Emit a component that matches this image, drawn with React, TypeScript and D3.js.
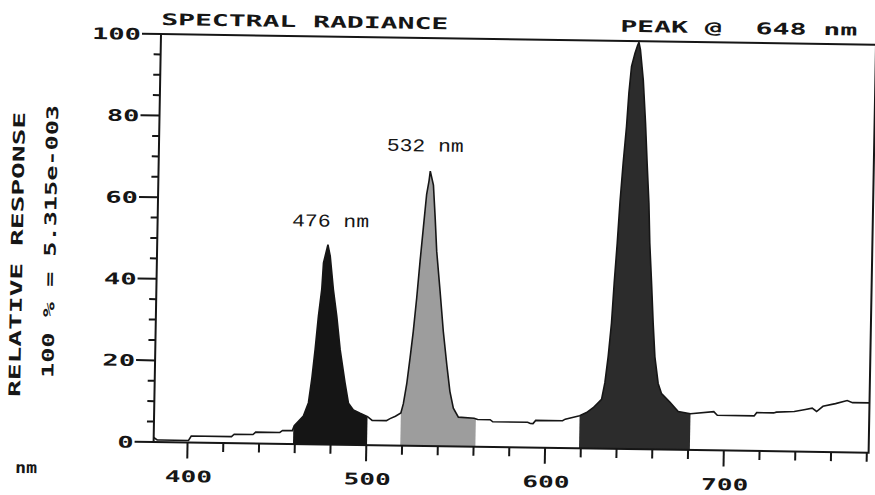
import React from "react";
import * as d3 from "d3";

// Spectrum: wavelength (nm) -> relative response (%)
const wavelengths = [
  381, 383, 385, 400.5, 402, 424.5, 426, 436.5, 438, 451.5, 453, 458.5, 459.5, 464.5, 467.2, 468.8, 470.4, 471.9, 473.5, 474.2,
  476.5, 477.9, 480, 482.2, 484.4, 487.5, 489.6, 492.4, 496.2, 500.4, 503, 511, 513, 516,
  519, 520.3, 522, 523.6, 525.1, 526.7, 528.2, 529.7, 531.2, 532.4, 533, 534.9, 536.2,
  537.4, 539.7, 541.9, 544.2, 546.2, 548.3, 551.2, 560, 562, 569, 570.5, 590, 591.5, 593, 594.5, 609.5, 611, 619,
  622.8, 626.5, 631.1, 632.8, 634.4, 635.9, 637, 638.3, 639.4, 640.8, 642.3, 643.3,
  644.5, 646.3, 647.7, 648.4, 649.3, 651.2, 652.9, 654.2, 655.6, 656.5, 657.9, 659.2,
  660.5, 662.6, 664.6, 669.3, 674.1, 681, 694, 696, 716.6, 718, 727.5, 729, 739, 744.5, 749,
  751.5, 755, 762, 768.5, 771.5, 781,
];
const response = [
  1.1, 0.5, 0.5, 0.5, 1.6, 1.6, 2.2, 2.2, 2.8, 2.8, 3.3, 3.3, 4.5, 6.9, 10.2, 15.9, 23.3, 31.4, 38, 44.5,
  49, 46.2, 38, 31.4, 23.3, 15.1, 10.2, 8.6, 7.8, 7.0, 6.1, 6.1, 6.6, 7.2,
  8.0, 10.3, 15.2, 21.6, 28, 36.3, 45.3, 53.5, 61.7, 65, 67.4, 64, 56,
  47.8, 38, 28.2, 20, 13.5, 9.4, 7.2, 7.0, 6.7, 6.7, 6.2, 6.2, 5.9, 5.9, 6.7, 6.7, 7.1, 8.0,
  8.8, 10, 12.1, 16.2, 22.7, 30.9, 40.7, 50.5, 60.3, 70.1, 79, 87.3,
  93.8, 97, 99, 99.7, 97.9, 90.5, 79.9, 70.1, 60.3, 50.5, 40.7, 30.9,
  22.7, 16.2, 13.7, 11.7, 9.4, 8.9, 9.5, 8.6, 8.6, 9.4, 9.4, 9.6, 9.8, 10.3, 10.7,
  9.9, 11.2, 11.9, 12.7, 12.2, 12.2,
];

// Shaded bands (nm)
const bandStarts = [459, 519, 619];
const bandEnds = [500.4, 561, 681];
const bandColors = ["#151515", "#9d9d9d", "#2c2c2c"];

// Axis ticks
const xMajorTicks = [400, 500, 600, 700];
const xMinorTicks = [420, 440, 460, 480, 520, 540, 560, 580, 620, 640, 660, 680, 720, 740, 760, 780];
const yMajorTicks = [0, 20, 40, 60, 80, 100];
const yMinorTicks = [5, 10, 15, 25, 30, 35, 45, 50, 55, 65, 70, 75, 85, 90, 95];

// Peak annotations
const peakLabels = ["476 nm", "532 nm"];
const peakLabelWl = [456.2, 508.4];
const peakLabelVal = [53.4, 72.2];

const titleText = "SPECTRAL RADIANCE";
const peakText = "PEAK @  648 nm";
const yTitle1 = "RELATIVE RESPONSE";
const yTitle2 = "100 % = 5.315e-003";
const xUnit = "nm";

const BOLD = "'DejaVu Sans Mono', monospace";
const SERIF = "'Liberation Mono', 'Courier New', monospace";
const INK = "#161616";

export default function App() {
  const left = 161, right = 876, top = 34, bottom = 442;
  const x = d3.scaleLinear().domain([381, 781]).range([left, right]);
  const y = d3.scaleLinear().domain([0, 100]).range([bottom, top]);

  const pts: [number, number][] = wavelengths.map((w, i) => [w, response[i]]);
  const line = d3
    .line<[number, number]>()
    .x((d) => x(d[0]))
    .y((d) => y(d[1]))
    .curve(d3.curveLinear);
  const area = d3
    .area<[number, number]>()
    .x((d) => x(d[0]))
    .y0(y(0))
    .y1((d) => y(d[1]))
    .curve(d3.curveLinear);

  return (
    <div style={{ position: "absolute", left: 0, top: 0 }}>
      <svg width={875} height={495} style={{ display: "block", background: "#fff" }}>
        <defs>
          {bandStarts.map((s, i) => (
            <clipPath id={`band${i}`} key={i}>
              <rect x={x(s)} y={top - 5} width={x(bandEnds[i]) - x(s)} height={bottom - top + 10} />
            </clipPath>
          ))}
        </defs>
        <g transform="matrix(1,0.01494,-0.01814,1,0.617,-2.405)">
          {bandStarts.map((s, i) => (
            <path key={i} d={area(pts) || ""} fill={bandColors[i]} clipPath={`url(#band${i})`} />
          ))}
          <path d={line(pts) || ""} fill="none" stroke={INK} strokeWidth={1.6} strokeLinejoin="miter" />

          {/* frame */}
          <rect x={left} y={top} width={right - left} height={bottom - top} fill="none" stroke={INK} strokeWidth={2} />

          {/* x ticks */}
          {xMajorTicks.map((t) => (
            <g key={t}>
              <line x1={x(t)} x2={x(t)} y1={bottom} y2={bottom + 16} stroke={INK} strokeWidth={2} />
              <text
                x={x(t) + 1.5}
                y={481.5}
                textAnchor="middle"
                fontFamily={BOLD}
                fontWeight="bold"
                fontSize={16}
                textLength={47}
                lengthAdjust="spacingAndGlyphs"
                fill={INK}
              >
                {t}
              </text>
            </g>
          ))}
          {xMinorTicks.map((t) => (
            <line key={t} x1={x(t)} x2={x(t)} y1={bottom} y2={bottom + 9} stroke={INK} strokeWidth={2} />
          ))}

          {/* y ticks */}
          {yMajorTicks.map((t) => (
            <g key={t}>
              <line x1={left - 19} x2={left} y1={y(t)} y2={y(t)} stroke={INK} strokeWidth={2} />
              <text
                x={141}
                y={y(t) + 6}
                textAnchor="end"
                fontFamily={BOLD}
                fontWeight="bold"
                fontSize={16}
                textLength={String(t).length * 16.3}
                lengthAdjust="spacingAndGlyphs"
                fill={INK}
              >
                {t}
              </text>
            </g>
          ))}
          {yMinorTicks.map((t) => (
            <line key={t} x1={left - 7} x2={left} y1={y(t)} y2={y(t)} stroke={INK} strokeWidth={2} />
          ))}

          {/* titles */}
          <text x={161} y={25} fontFamily={BOLD} fontWeight="bold" fontSize={16} textLength={287} lengthAdjust="spacingAndGlyphs" fill={INK}>
            {titleText}
          </text>
          <text x={620} y={25} fontFamily={BOLD} fontWeight="bold" fontSize={16} textLength={237} lengthAdjust="spacingAndGlyphs" fill={INK} style={{ whiteSpace: "pre" }}>
            {peakText}
          </text>
          <text
            transform="translate(26.5,256.5) rotate(-90)"
            textAnchor="middle"
            fontFamily={BOLD}
            fontWeight="bold"
            fontSize={16}
            textLength={285}
            lengthAdjust="spacingAndGlyphs"
            fill={INK}
          >
            {yTitle1}
          </text>
          <text
            transform="translate(59.5,243) rotate(-90)"
            textAnchor="middle"
            fontFamily={BOLD}
            fontWeight="bold"
            fontSize={16}
            textLength={273}
            lengthAdjust="spacingAndGlyphs"
            fill={INK}
          >
            {yTitle2}
          </text>
          <text x={23} y={475} fontFamily={BOLD} fontWeight="bold" fontSize={16} textLength={22} lengthAdjust="spacingAndGlyphs" fill={INK}>
            {xUnit}
          </text>

          {/* peak annotations */}
          {peakLabels.map((l, i) => (
            <text
              key={l}
              x={x(peakLabelWl[i])}
              y={y(peakLabelVal[i])}
              fontFamily={SERIF}
              fontSize={18}
              textLength={77}
              lengthAdjust="spacingAndGlyphs"
              fill={INK}
              style={{ whiteSpace: "pre" }}
            >
              {l}
            </text>
          ))}
        </g>
      </svg>
    </div>
  );
}
